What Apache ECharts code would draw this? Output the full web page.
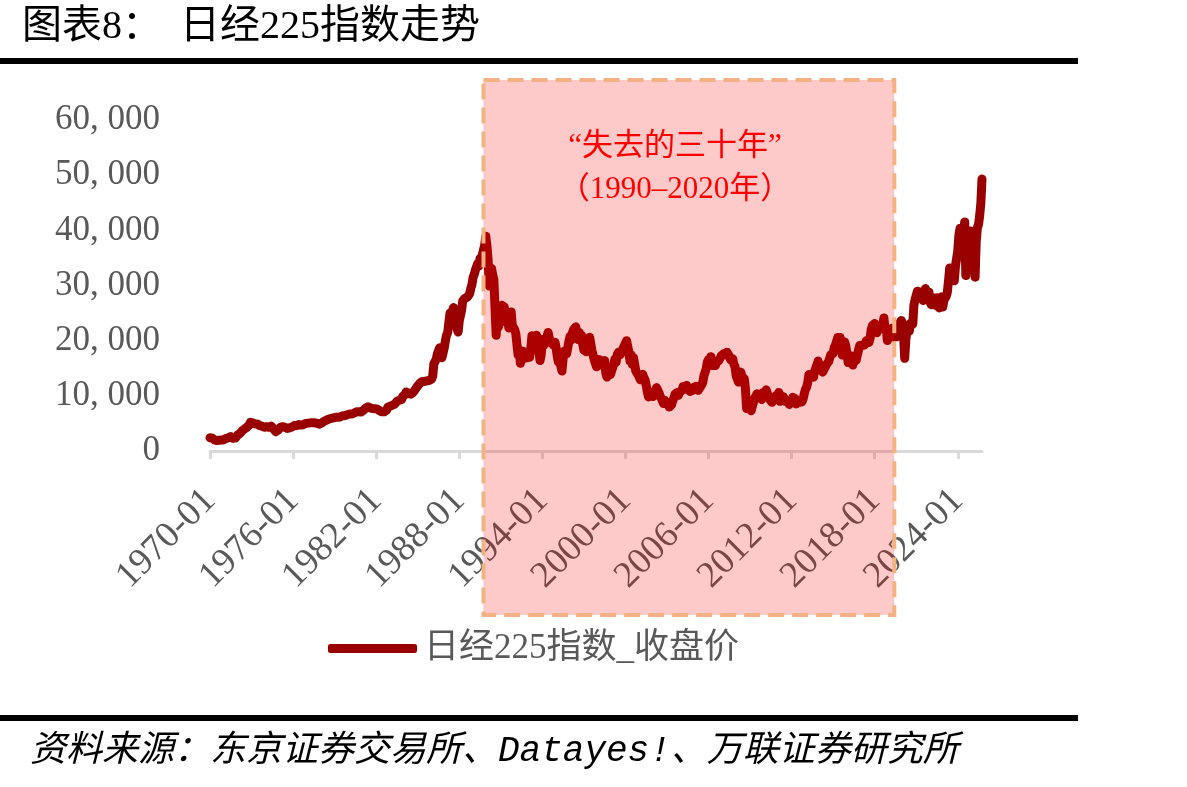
<!DOCTYPE html>
<html>
<head>
<meta charset="utf-8">
<script src="https://cdn.jsdelivr.net/npm/echarts@6/dist/echarts.min.js"></script>
<style>
  html, body { margin: 0; padding: 0; background: #fff; }
  #main { width: 1187px; height: 787px; }
</style>
</head>
<body>
<div id="main"></div>
<script>
// 日经225 月度收盘，1970-01 ~ 2025-10
var close1970s = [
  2400, 2350, 2320, 2150, 2000, 1950, 1900, 1930, 1950, 1980, 1980, 1990,
  2050, 2150, 2300, 2350, 2400, 2450, 2600, 2400, 2300, 2300, 2350, 2710,
  2900, 3100, 3200, 3500, 3700, 3800, 4000, 4200, 4300, 4500, 4700, 5200,
  5300, 5100, 5000, 4900, 4800, 4900, 4700, 4600, 4700, 4500, 4300, 4300,
  4200, 4400, 4500, 4300, 4400, 4500, 4300, 4000, 3800, 3500, 3700, 3800,
  4100, 4300, 4400, 4400, 4500, 4300, 4200, 4100, 4000, 4200, 4300, 4350,
  4500, 4600, 4700, 4600, 4600, 4800, 4700, 4700, 4700, 4800, 4800, 4990,
  5000, 5050, 5100, 5100, 5000, 5100, 5100, 5100, 5000, 5000, 4900, 4870,
  5000, 5100, 5300, 5400, 5500, 5600, 5700, 5800, 5900, 5900, 6000, 6000,
  6100, 6100, 6200, 6100, 6100, 6200, 6300, 6400, 6500, 6400, 6400, 6570
];
var close1980s = [
  6500, 6700, 6600, 6700, 6800, 6900, 7000, 7100, 7100, 7100, 7100, 7060,
  7300, 7400, 7600, 7800, 7800, 8000, 7900, 7800, 7600, 7700, 7700, 7680,
  7700, 7600, 7300, 7300, 7300, 7100, 7000, 7100, 7000, 7400, 7900, 8020,
  8100, 8100, 8300, 8500, 8500, 8700, 9000, 9000, 9200, 9300, 9300, 9890,
  10000, 10200, 10700, 11000, 10500, 10300, 10300, 10400, 10600, 10900, 11200, 11540,
  11800, 12000, 12300, 12500, 12600, 12700, 12600, 12700, 12700, 12800, 12800, 13110,
  13000, 13600, 15800, 15700, 16600, 17600, 17600, 18700, 17900, 16900, 17800, 18700,
  20000, 21000, 21500, 23300, 25000, 24500, 24500, 26000, 26000, 23000, 23000, 21560,
  23600, 24500, 25500, 27200, 27400, 27700, 28000, 27900, 27900, 28500, 29500, 30160,
  31500, 32000, 32800, 33000, 34000, 33500, 34900, 34500, 35600, 35500, 37300, 38920
];
var close1990s = [
  37200, 34600, 29900, 29600, 33100, 31900, 31000, 25900, 20980, 25200, 22500, 23850,
  23300, 26400, 26300, 26100, 25800, 23300, 23900, 22300, 23900, 25200, 22700, 22980,
  22000, 21300, 19300, 17400, 18300, 15900, 15900, 18100, 17400, 16800, 17700, 16930,
  17000, 17000, 18600, 20900, 20500, 19600, 20400, 21000, 20100, 19800, 16400, 17420,
  20200, 19100, 19100, 19700, 20600, 21500, 20400, 20600, 19600, 19900, 19100, 19720,
  18600, 17000, 16100, 16800, 15400, 14500, 16700, 18100, 17900, 17600, 18700, 19870,
  20800, 20100, 21400, 22000, 21900, 22500, 20700, 20200, 21500, 20500, 21000, 19360,
  18300, 18600, 18000, 19200, 20000, 20600, 20300, 18200, 17900, 16500, 16600, 15260,
  16600, 16800, 16500, 15600, 15700, 15800, 16400, 14100, 13400, 13600, 14900, 13840,
  14500, 14400, 15800, 16700, 16100, 17500, 17900, 17400, 17600, 17900, 18600, 18930
];
var close2000s = [
  19500, 20000, 20300, 17900, 16300, 17400, 15700, 16900, 15700, 14500, 14600, 13790,
  13800, 12900, 13000, 13900, 13300, 12900, 11900, 10700, 9800, 10400, 10700, 10540,
  9900, 10600, 11000, 11500, 11800, 10600, 10000, 9600, 9400, 8600, 9200, 8580,
  8300, 8400, 7970, 7830, 8400, 9100, 9600, 10300, 10200, 10600, 10100, 10680,
  10800, 11000, 11700, 11800, 11200, 11900, 11300, 11100, 10800, 10800, 11000, 11490,
  11400, 11700, 11700, 11000, 11300, 11600, 11900, 12400, 13600, 13600, 14900, 16110,
  16600, 16200, 17100, 17000, 15500, 15500, 15500, 16100, 16100, 16400, 16300, 17230,
  17400, 17600, 17300, 17400, 17900, 18100, 17200, 16600, 16800, 16700, 15700, 15310,
  13600, 13600, 12500, 13800, 14300, 13500, 13400, 13100, 11300, 7700, 8500, 8860,
  7990, 7300, 8110, 8830, 9520, 9960, 10360, 10490, 10130, 10030, 9350, 10550
];
var close2010s = [
  10200, 10130, 11090, 11060, 9770, 9380, 9540, 8820, 9370, 9200, 9940, 10230,
  10240, 10620, 9000, 9850, 9690, 9820, 9830, 8950, 8700, 8990, 8430, 8460,
  8800, 9720, 10080, 9520, 8540, 9010, 8700, 8840, 8870, 8930, 9450, 10400,
  11140, 11560, 12400, 13860, 13770, 13680, 13670, 13390, 14460, 14330, 15660, 16290,
  14910, 14840, 14830, 14300, 14630, 15160, 15620, 15420, 16170, 16410, 17460, 17450,
  17670, 18800, 19210, 19520, 20560, 20240, 20590, 18890, 17390, 19080, 19750, 19030,
  17520, 16030, 16760, 16670, 17230, 15580, 16570, 16890, 16450, 17430, 18310, 19110,
  19040, 19120, 18910, 19200, 19650, 20030, 19930, 19650, 20360, 22010, 22720, 22760,
  23100, 22070, 21450, 22470, 22200, 22300, 22550, 22870, 24120, 21920, 22350, 20020,
  20770, 21390, 21210, 22260, 20600, 21280, 21520, 20700, 21760, 22930, 23290, 23660
];
var close2020s = [
  23200, 21140, 16800, 20190, 21880, 22290, 21710, 23140, 23190, 22980, 26430, 27440,
  27660, 28970, 29180, 28810, 28860, 28790, 27280, 28090, 29450, 28890, 27820, 28790,
  27000, 26530, 27820, 26850, 27280, 26390, 27800, 28090, 25940, 27590, 27970, 26100,
  27330, 27450, 28040, 28860, 30890, 33190, 33170, 32620, 31860, 30860, 33490, 33460,
  36290, 39170, 40370, 38410, 38490, 39580, 41500, 31800, 37920, 39080, 38210, 39890,
  39570, 37160, 35620, 31500, 37970, 40490, 41070, 42720, 44930, 49300
];

var closeValues = [].concat(close1970s, close1980s, close1990s, close2000s, close2010s, close2020s);
var startYear = 1970;
var months = closeValues.map(function (v, i) {
  var y = startYear + Math.floor(i / 12), m = i % 12 + 1;
  return y + '-' + (m < 10 ? '0' + m : m);
});

// “失去的三十年”阴影区间
var lostStart = '1989-10', lostEnd = '2019-06';

var serifCJK = '"Liberation Serif", "Noto Sans CJK SC", serif';
var chart = echarts.init(document.getElementById('main'));

chart.setOption({
  animation: false,
  backgroundColor: '#fff',
  grid: { left: 210, right: 205, top: 120, bottom: 336 },
  legend: {
    left: 328, top: 631, padding: 0,
    icon: 'roundRect',
    itemWidth: 89, itemHeight: 9,
    textStyle: { color: '#595959', fontSize: 35, fontFamily: serifCJK, padding: [0, 0, 0, 2] },
    data: ['日经225指数_收盘价']
  },
  xAxis: {
    type: 'category',
    data: months,
    boundaryGap: false,
    axisLine: { lineStyle: { color: '#d9d9d9', width: 3 } },
    axisTick: { show: true, interval: 71, length: 8, lineStyle: { color: '#d9d9d9', width: 3 } },
    axisLabel: {
      interval: 71, rotate: 45, margin: 44,
      color: '#595959', fontSize: 37, fontFamily: serifCJK
    }
  },
  yAxis: {
    type: 'value',
    min: 0, max: 60000, interval: 10000,
    axisLine: { show: false },
    axisTick: { show: false },
    splitLine: { show: false },
    axisLabel: {
      margin: 50, color: '#595959', fontSize: 35, fontFamily: serifCJK,
      formatter: function (v) {
        return v === 0 ? '0' : echarts.format.addCommas(v).replace(',', ', ');
      }
    }
  },
  series: [{
    name: '日经225指数_收盘价',
    type: 'line',
    data: closeValues,
    symbol: 'none',
    itemStyle: { color: '#990000' },
    lineStyle: { color: '#990000', width: 9, join: 'round', cap: 'round' }
  }]
});

var boxLeft = chart.convertToPixel({ xAxisIndex: 0 }, lostStart);
var boxRight = chart.convertToPixel({ xAxisIndex: 0 }, lostEnd);
var noteX = (boxLeft + boxRight) / 2 - 14;

chart.setOption({
  graphic: [
    {
      type: 'text', left: 22, top: 8,
      style: { text: '图表8：', fill: '#000', font: '40px ' + serifCJK }
    },
    {
      type: 'text', left: 180, top: 8,
      style: { text: '日经225指数走势', fill: '#000', font: '40px ' + serifCJK }
    },
    { type: 'rect', shape: { x: 0, y: 58, width: 1078, height: 6 }, style: { fill: '#000' } },
    {
      type: 'rect', z: 100,
      shape: { x: boxLeft, y: 80, width: boxRight - boxLeft, height: 535 },
      style: { fill: 'rgba(245,0,0,0.21)', stroke: '#F4B183', lineWidth: 4, lineDash: [16, 8] }
    },
    {
      type: 'text', z: 101, x: noteX, y: 147,
      style: { text: '“失去的三十年”', fill: '#ff0000', font: '31px ' + serifCJK, textAlign: 'center', textVerticalAlign: 'middle' }
    },
    {
      type: 'text', z: 101, x: noteX, y: 190,
      style: { text: '（1990–2020年）', fill: '#ff0000', font: '31px ' + serifCJK, textAlign: 'center', textVerticalAlign: 'middle' }
    },
    { type: 'rect', shape: { x: 0, y: 715, width: 1078, height: 6 }, style: { fill: '#000' } },
    {
      type: 'text', left: 30, top: 733,
      style: { text: '资料来源：东京证券交易所、Datayes!、万联证券研究所', fill: '#000', font: 'italic 36px "Liberation Mono", "Noto Sans CJK SC", monospace' }
    }
  ]
});
</script>
</body>
</html>
